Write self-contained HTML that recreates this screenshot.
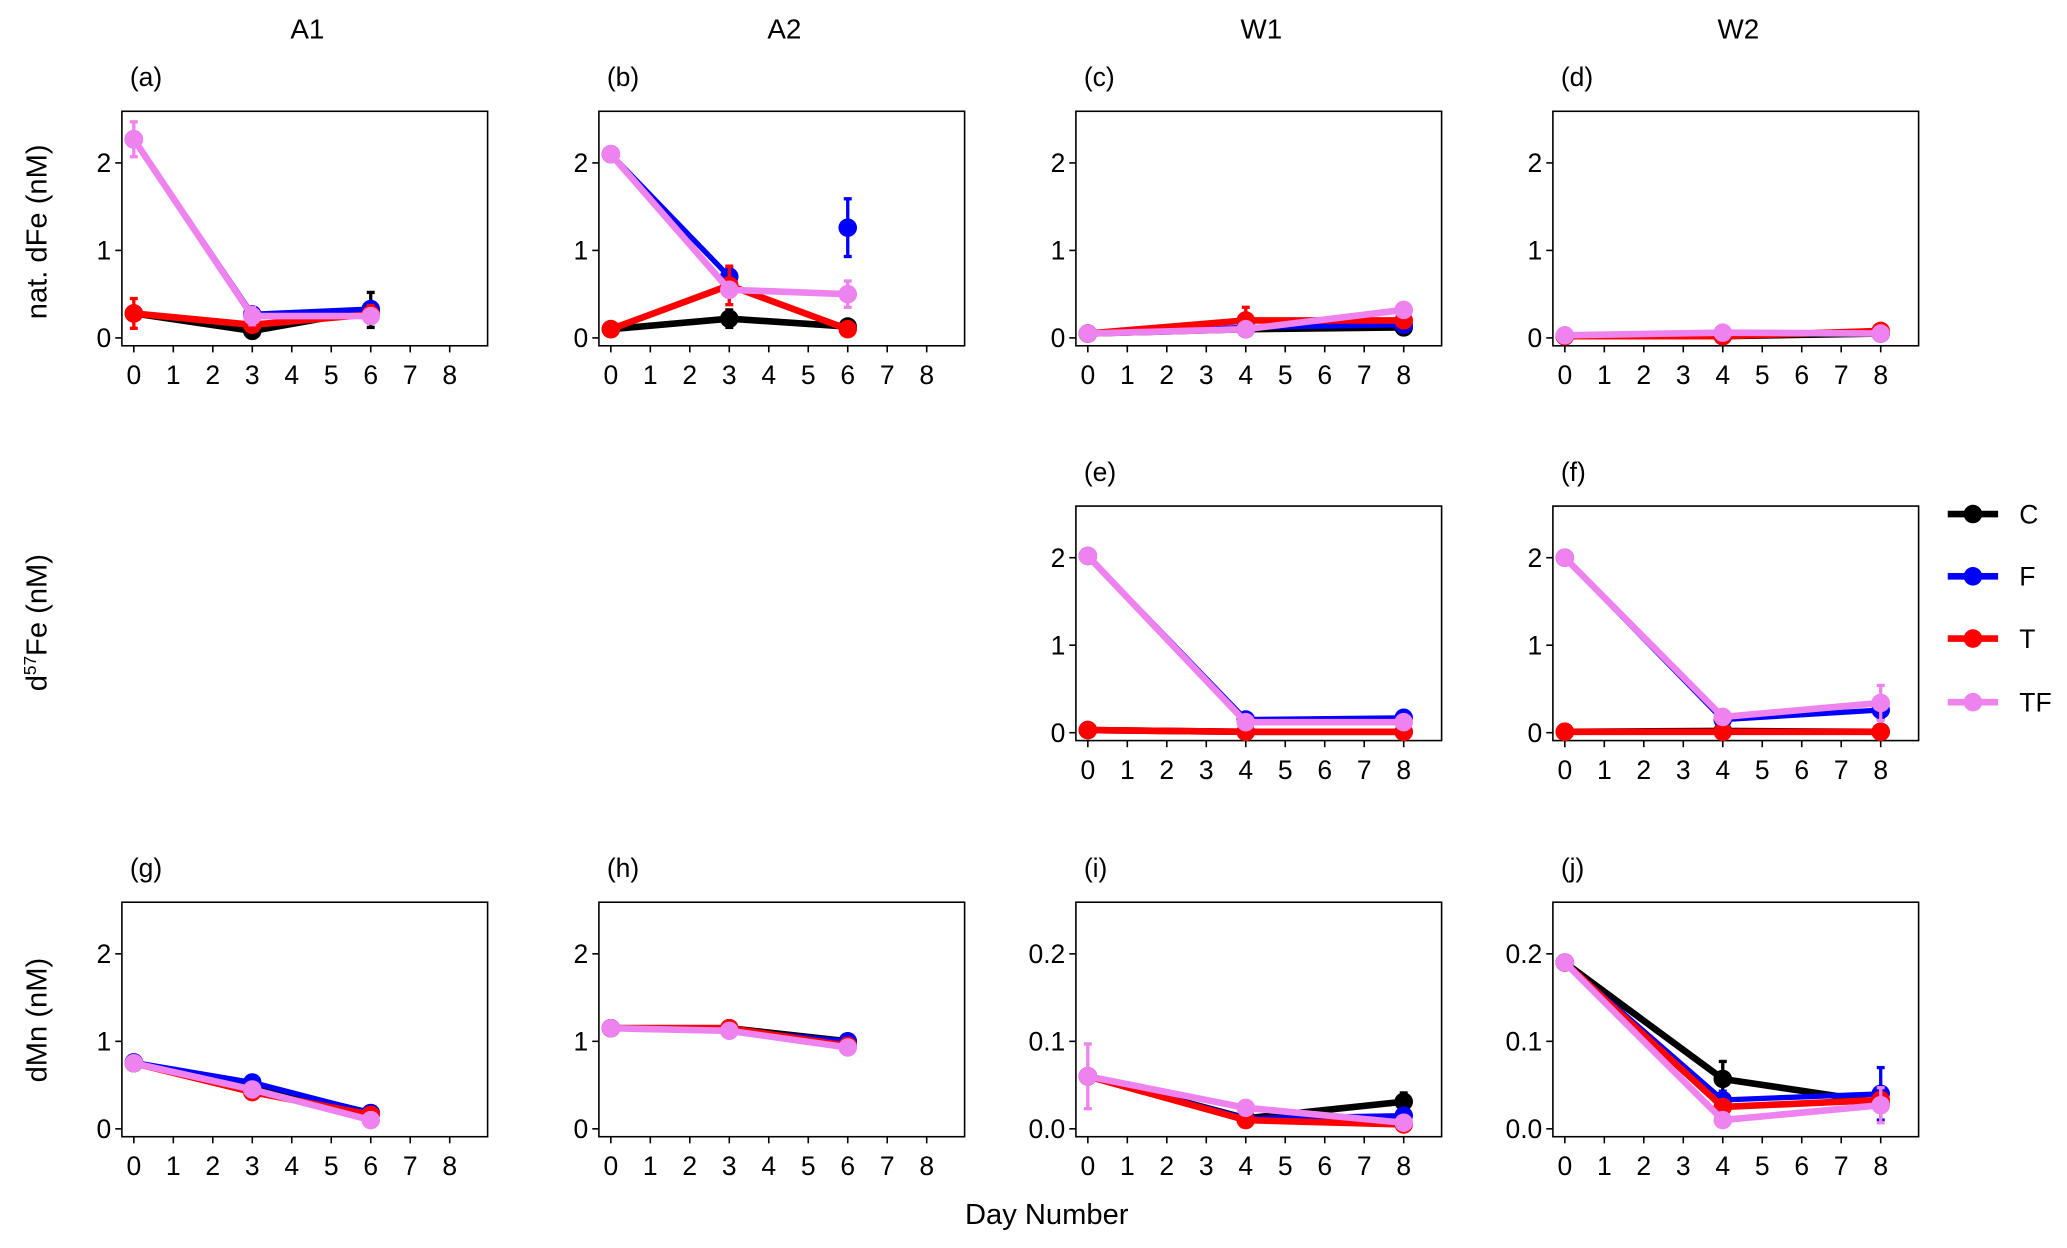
<!DOCTYPE html>
<html><head><meta charset="utf-8">
<style>
html,body{margin:0;padding:0;background:#fff;}
svg{display:block;font-family:"Liberation Sans",sans-serif;}
</style></head>
<body>
<svg id="chart" width="2067" height="1248" viewBox="0 0 1560 942" preserveAspectRatio="none" xmlns="http://www.w3.org/2000/svg"></svg>
<script>
const seriesNames = ["C","F","T","TF"];
const seriesColors = ["#000000","#0000ff","#ff0000","#ee82ee"];
const daysA = [0,3,6];
const daysW = [0,4,8];
const xTicks = [0,1,2,3,4,5,6,7,8];
const feTicks = [0,1,2];
const mnTicksW = [0,0.1,0.2];
const mnTickLabelsW = ["0.0","0.1","0.2"];
const colTitles = ["A1","A2","W1","W2"];
const rowTitles = ["nat. dFe (nM)","d57Fe (nM)","dMn (nM)"];

const aC=[0.28,0.08,0.32], aF=[2.27,0.27,0.33], aT=[0.28,0.15,0.27], aTF=[2.27,0.25,0.25];
const bC=[0.10,0.22,0.13], bF=[2.10,0.70,1.26], bT=[0.10,0.60,0.10], bTF=[2.10,0.55,0.50];
const cC=[0.05,0.10,0.12], cF=[0.05,0.12,0.15], cT=[0.05,0.20,0.20], cTF=[0.05,0.10,0.32];
const dC=[0.02,0.02,0.05], dF=[0.02,0.05,0.05], dT=[0.02,0.02,0.08], dTF=[0.03,0.06,0.05];
const eC=[0.03,0.01,0.01], eF=[2.02,0.15,0.17], eT=[0.03,0.01,0.01], eTF=[2.02,0.12,0.12];
const fC=[0.01,0.02,0.01], fF=[2.00,0.15,0.26], fT=[0.01,0.01,0.01], fTF=[2.00,0.18,0.34];
const gC=[0.75,0.50,0.18], gF=[0.76,0.53,0.18], gT=[0.75,0.42,0.16], gTF=[0.75,0.45,0.10];
const hC=[1.15,1.15,1.00], hF=[1.15,1.13,1.00], hT=[1.15,1.15,0.95], hTF=[1.15,1.12,0.93];
const iC=[0.060,0.012,0.031], iF=[0.060,0.012,0.015], iT=[0.060,0.010,0.005], iTF=[0.060,0.024,0.007];
const jC=[0.190,0.057,0.030], jF=[0.190,0.033,0.040], jT=[0.190,0.025,0.033], jTF=[0.190,0.010,0.027];
const aErrC=[0.05,0.04,0.2], aErrT=[0.17,0.05,0.1], aErrTF=[0.2,0.1,0.05];
const bErrF=[0.03,0.1,0.33], bErrT=[0.05,0.22,0.03], bErrTF=[0.03,0.05,0.15], bErrC=[0.03,0.1,0.03];
const cErrT=[0.02,0.15,0.05], cErrTF=[0.02,0.05,0.05];
const fErrTF=[0.01,0.05,0.2], fErrF=[0.01,0.03,0.1];
const iErrTF=[0.037,0.005,0.005], iErrC=[0.002,0.002,0.01];
const jErrC=[0.003,0.02,0.005], jErrF=[0.003,0.01,0.03], jErrTF=[0.003,0.005,0.02];

const panels = [
 {lab:"(a)",col:0,row:0,days:daysA,ymax:2.59,ymin:-0.09,data:[aC,aF,aT,aTF],err:[aErrC,null,aErrT,aErrTF],noLineLast:[]},
 {lab:"(b)",col:1,row:0,days:daysA,ymax:2.59,ymin:-0.09,data:[bC,bF,bT,bTF],err:[bErrC,bErrF,bErrT,bErrTF],noLineLast:[1]},
 {lab:"(c)",col:2,row:0,days:daysW,ymax:2.59,ymin:-0.09,data:[cC,cF,cT,cTF],err:[null,null,cErrT,cErrTF],noLineLast:[]},
 {lab:"(d)",col:3,row:0,days:daysW,ymax:2.59,ymin:-0.09,data:[dC,dF,dT,dTF],err:[null,null,null,null],noLineLast:[]},
 {lab:"(e)",col:2,row:1,days:daysW,ymax:2.59,ymin:-0.09,data:[eC,eF,eT,eTF],err:[null,null,null,null],noLineLast:[]},
 {lab:"(f)",col:3,row:1,days:daysW,ymax:2.59,ymin:-0.09,data:[fC,fF,fT,fTF],err:[null,fErrF,null,fErrTF],noLineLast:[]},
 {lab:"(g)",col:0,row:2,days:daysA,ymax:2.59,ymin:-0.09,data:[gC,gF,gT,gTF],err:[null,null,null,null],noLineLast:[]},
 {lab:"(h)",col:1,row:2,days:daysA,ymax:2.59,ymin:-0.09,data:[hC,hF,hT,hTF],err:[null,null,null,null],noLineLast:[]},
 {lab:"(i)",col:2,row:2,days:daysW,ymax:0.259,ymin:-0.009,data:[iC,iF,iT,iTF],err:[iErrC,null,null,iErrTF],noLineLast:[],mn:true},
 {lab:"(j)",col:3,row:2,days:daysW,ymax:0.259,ymin:-0.009,data:[jC,jF,jT,jTF],err:[jErrC,jErrF,null,jErrTF],noLineLast:[],mn:true}
];

const NS="http://www.w3.org/2000/svg";
const svg=document.getElementById('chart');
function mk(tag,attrs,parent){const e=document.createElementNS(NS,tag);for(const k in attrs)e.setAttribute(k,attrs[k]);(parent||svg).appendChild(e);return e;}
const colX=[92,452,812,1172], rowY=[84,382,681], boxW=276, boxH=177;

colTitles.forEach((t,i)=>{const e=mk('text',{x:colX[i]+140,y:29,'font-size':21,'text-anchor':'middle'});e.textContent=t;

});
const rt=[175,470,770];
rowTitles.forEach((t,i)=>{const g=mk('text',{x:0,y:0,'font-size':22,'text-anchor':'middle',transform:`translate(35,${rt[i]}) rotate(-90)`});
if(i===1){g.innerHTML='d<tspan dy="-8" font-size="13">57</tspan><tspan dy="8">Fe (nM)</tspan>';}else g.textContent=t;

});
const xt=mk('text',{x:790,y:924,'font-size':22,'text-anchor':'middle'});xt.textContent="Day Number";



panels.forEach(p=>{
 const x0=colX[p.col], y0=rowY[p.row];
 const g=mk('g',{});
 
 
 const xs=d=>x0+9+d*29.8;
 const ys=v=>y0+boxH-(v-p.ymin)/(p.ymax-p.ymin)*boxH;
 const lt=mk('text',{x:x0+6,y:y0-19,'font-size':20},g);lt.textContent=p.lab;
 mk('rect',{x:x0,y:y0,width:boxW,height:boxH,fill:'none',stroke:'#000','stroke-width':1.2},g);
 xTicks.forEach(t=>{mk('line',{x1:xs(t),x2:xs(t),y1:y0+boxH,y2:y0+boxH+5,stroke:'#000','stroke-width':1.2},g);
  const e=mk('text',{x:xs(t),y:y0+boxH+29,'font-size':20,'text-anchor':'middle'},g);e.textContent=t;});
 const yt=p.mn?mnTicksW:feTicks, yl=p.mn?mnTickLabelsW:feTicks.map(String);
 yt.forEach((t,i)=>{mk('line',{x1:x0-5,x2:x0,y1:ys(t),y2:ys(t),stroke:'#000','stroke-width':1.2},g);
  const e=mk('text',{x:x0-8,y:ys(t)+7,'font-size':20,'text-anchor':'end'},g);e.textContent=yl[i];});
 p.data.forEach((vals,si)=>{
  const col=seriesColors[si];
  const sg=mk('g',{},g);
  
  
  const n=p.noLineLast.includes(si)?vals.length-1:vals.length;
  const pts=[];for(let k=0;k<n;k++)pts.push(xs(p.days[k])+','+ys(vals[k]));
  mk('polyline',{points:pts.join(' '),fill:'none',stroke:col,'stroke-width':si===1?4:5,'stroke-linejoin':'round'},sg);
  const er=p.err[si];
  vals.forEach((v,k)=>{
   if(er){const a=ys(v+er[k]),b=ys(v-er[k]),cx=xs(p.days[k]);
    mk('line',{x1:cx,x2:cx,y1:a,y2:b,stroke:col,'stroke-width':2.5},sg);
    mk('line',{x1:cx-3,x2:cx+3,y1:a,y2:a,stroke:col,'stroke-width':2.5},sg);
    mk('line',{x1:cx-3,x2:cx+3,y1:b,y2:b,stroke:col,'stroke-width':2.5},sg);}
   mk('circle',{cx:xs(p.days[k]),cy:ys(v),r:7,fill:col},sg);
  });
 });
});
const legY=[388,435,482,530];
seriesNames.forEach((n,i)=>{
 const g=mk('g',{});
 
 
 mk('line',{x1:1470,x2:1508,y1:legY[i],y2:legY[i],stroke:seriesColors[i],'stroke-width':5},g);
 mk('circle',{cx:1489,cy:legY[i],r:7,fill:seriesColors[i]},g);
 const t=mk('text',{x:1524,y:legY[i]+7,'font-size':20},g);t.textContent=n;
});
</script>
</body></html>
